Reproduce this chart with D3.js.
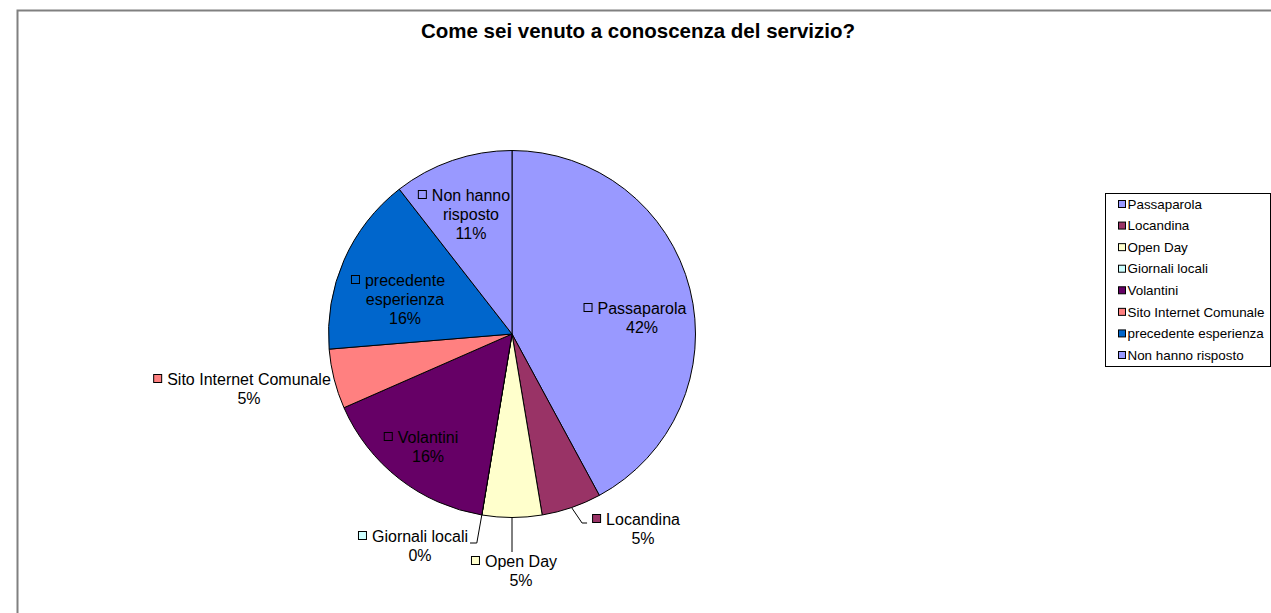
<!DOCTYPE html>
<html>
<head>
<meta charset="utf-8">
<script src="https://cdn.jsdelivr.net/npm/d3@7"></script>
<style>
  html, body { margin: 0; padding: 0; background: #fff; }
  svg { display: block; font-family: "Liberation Sans", Arial, sans-serif; }
</style>
</head>
<body>
<svg id="chart" width="1271" height="613"></svg>
<script>
// ---- data ----
const title = "Come sei venuto a conoscenza del servizio?";
const categories = ["Passaparola", "Locandina", "Open Day", "Giornali locali", "Volantini",
  "Sito Internet Comunale", "precedente esperienza", "Non hanno risposto"];
const counts = [8, 1, 1, 0, 3, 1, 3, 2];
const percentLabels = ["42%", "5%", "5%", "0%", "16%", "5%", "16%", "11%"];
const labelLines = [["Passaparola"], ["Locandina"], ["Open Day"], ["Giornali locali"], ["Volantini"],
  ["Sito Internet Comunale"], ["precedente", "esperienza"], ["Non hanno", "risposto"]];
const colors = ["#9999FF", "#993366", "#FFFFCC", "#CCFFFF", "#660066", "#FF8080", "#0066CC", "#9999FF"];

// ---- layout (label anchors relative to pie centre: text-centre x, first-line y) ----
const labelAnchor = [[130, -26], [131, 185], [9, 227], [-92, 202], [-84, 103], [-263, 45], [-107, -54], [-41, -139]];
const leaderType = [null, "elbowRight", "vertical", "elbowLeft", null, null, null, null];

const svg = d3.select("#chart");

// frame
svg.append("rect").attr("x", 17.5).attr("y", 10.5).attr("width", 1300).attr("height", 700)
  .attr("fill", "#fff").attr("stroke", "#808080").attr("stroke-width", 2);

// title
svg.append("text").attr("x", 638).attr("y", 38).attr("text-anchor", "middle")
  .attr("font-size", 20.5).attr("font-weight", "bold").attr("fill", "#000").text(title);

// pie
const cx = 512, cy = 334, R = 183.5;
const pie = d3.pie().sort(null).value(d => d).startAngle(0).endAngle(2 * Math.PI);
const arcs = pie(counts);
const arc = d3.arc().innerRadius(0).outerRadius(R);
const g = svg.append("g").attr("transform", `translate(${cx},${cy})`);

g.selectAll("path.slice").data(arcs).join("path")
  .attr("class", "slice")
  .attr("d", arc)
  .attr("fill", (d, i) => colors[i])
  .attr("stroke", "#000").attr("stroke-width", 1).attr("stroke-linejoin", "round");

const fs = 16, lh = 19;
const measure = svg.append("text").attr("font-size", fs).attr("visibility", "hidden");
function textW(s) { measure.text(s); return measure.node().getComputedTextLength(); }

// leaders
arcs.forEach((d, i) => {
  const t = leaderType[i];
  if (!t) return;
  const mid = (d.startAngle + d.endAngle) / 2;
  const sx = Math.sin(mid) * R, sy = -Math.cos(mid) * R;
  const [ax, ay] = labelAnchor[i];
  const w0 = textW(labelLines[i][0]);
  let pts;
  if (t === "elbowRight") {
    const left = ax - w0 / 2 - 15;
    pts = [[sx, sy], [left - 9, ay + 4], [left - 4, ay + 4]];
  } else if (t === "vertical") {
    pts = [[sx, sy], [sx, ay - 9]];
  } else {
    const right = ax + w0 / 2;
    pts = [[sx, sy], [sx - 5, ay + 7], [right + 2, ay + 7]];
  }
  g.append("path").attr("d", d3.line()(pts)).attr("fill", "none")
    .attr("stroke", "#000").attr("stroke-width", 1);
});

// labels
arcs.forEach((d, i) => {
  const [ax, ay] = labelAnchor[i];
  const lines = labelLines[i].concat([percentLabels[i]]);
  lines.forEach((s, j) => {
    g.append("text").attr("x", ax).attr("y", ay + j * lh).attr("dy", "0.35em")
      .attr("text-anchor", "middle").attr("font-size", fs).attr("fill", "#000").text(s);
  });
  const w0 = textW(labelLines[i][0]);
  g.append("rect").attr("x", ax - w0 / 2 - 13.5).attr("y", ay - 4.5).attr("width", 8).attr("height", 8)
    .attr("fill", colors[i]).attr("stroke", "#000").attr("stroke-width", 1);
});

// legend
const lg = svg.append("g");
lg.append("rect").attr("x", 1105.5).attr("y", 193.5).attr("width", 165).attr("height", 173)
  .attr("fill", "#fff").attr("stroke", "#000").attr("stroke-width", 1);
const ly = d3.scalePoint().domain(categories).range([204, 355]);
categories.forEach((c, i) => {
  lg.append("rect").attr("x", 1118.5).attr("y", ly(c) - 3.5).attr("width", 7).attr("height", 7)
    .attr("fill", colors[i]).attr("stroke", "#000").attr("stroke-width", 1);
  lg.append("text").attr("x", 1127.5).attr("y", ly(c)).attr("dy", "0.35em")
    .attr("font-size", 13.4).attr("fill", "#000").text(c);
});
measure.remove();
</script>
</body>
</html>
